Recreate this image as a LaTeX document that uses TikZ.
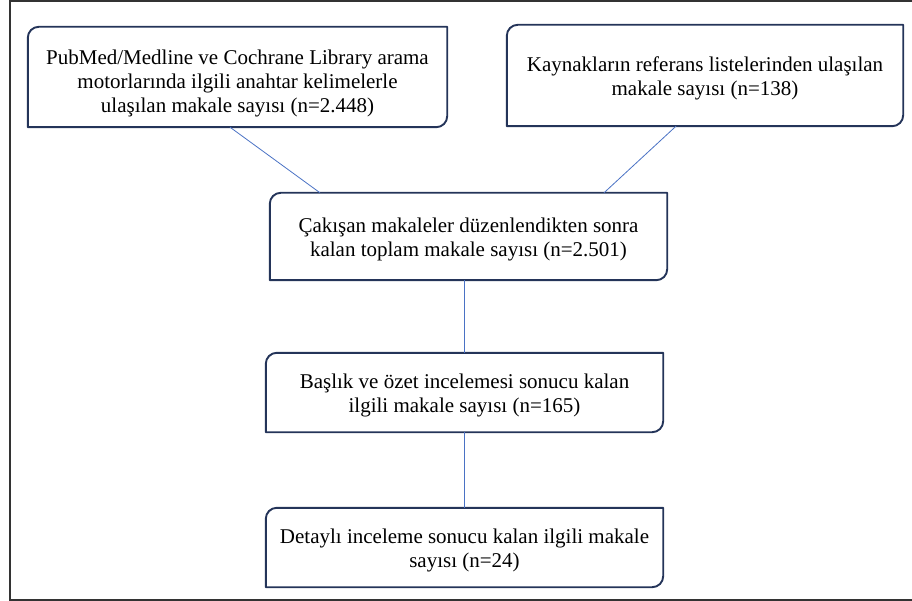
\documentclass[tikz,border=0pt]{standalone}
\usepackage{fontspec}
\setmainfont{Liberation Serif}
\definecolor{boxnavy}{HTML}{243459}
\definecolor{linkblue}{HTML}{4A72C4}
\definecolor{framegray}{HTML}{333333}
\newcommand\flowbox[1]{\draw[boxline] (#1.north east) -- ([yshift=11pt]#1.south east) arc(0:-90:11pt) -- (#1.south west) -- ([yshift=-11pt]#1.north west) arc(180:90:11pt) -- cycle;}
\begin{document}
\begin{tikzpicture}[x=1pt,y=-1pt,
  boxline/.style={draw=boxnavy,line width=1.9pt,line join=round},
  shell/.style={inner sep=0pt},
  ftext/.style={inner sep=0pt,align=center,font=\fontsize{21}{24}\selectfont},
  link/.style={draw=linkblue,line width=0.8pt}]
\useasboundingbox (0,0) rectangle (912,601);
\draw[framegray,line width=2pt] (912,1.5) -- (9.5,1.5) -- (9.5,599.5) -- (912,599.5);
\node[shell,minimum width=419pt,minimum height=100pt] (b1) at (237.5,77) {};
\node[shell,minimum width=396pt,minimum height=101pt] (b2) at (705,75.5) {};
\node[shell,minimum width=397pt,minimum height=87pt] (b3) at (468.5,236.5) {};
\node[shell,minimum width=397pt,minimum height=79pt] (b4) at (464.5,392.5) {};
\node[shell,minimum width=397pt,minimum height=79pt] (b5) at (464.5,547.5) {};
\node[ftext] (t1) at ([yshift=-6pt]b1.center) {PubMed/Medline ve Cochrane Library arama\\motorlarında ilgili anahtar kelimelerle\\ulaşılan makale sayısı (n=2.448)};
\node[ftext] (t2) at ([yshift=-3pt]b2.center) {Kaynakların referans listelerinden ulaşılan\\makale sayısı (n=138)};
\node[ftext] (t3) at ([yshift=-3pt]b3.center) {Çakışan makaleler düzenlendikten sonra\\kalan toplam makale sayısı (n=2.501)};
\node[ftext] (t4) at ([yshift=-3pt]b4.center) {Başlık ve özet incelemesi sonucu kalan\\ilgili makale sayısı (n=165)};
\node[ftext] (t5) at ([yshift=-3pt]b5.center) {Detaylı inceleme sonucu kalan ilgili makale\\sayısı (n=24)};
\flowbox{b1}\flowbox{b2}\flowbox{b3}\flowbox{b4}\flowbox{b5}
\draw[link] ([xshift=-7.5pt]b1.south) -- ([xshift=-148.5pt]b3.north);
\draw[link] ([xshift=-29pt]b2.south) -- ([xshift=135.5pt]b3.north);
\draw[link] (b4.north |- b3.south) -- (b4.north);
\draw[link] (b5.north |- b4.south) -- (b5.north);
\end{tikzpicture}
\end{document}
